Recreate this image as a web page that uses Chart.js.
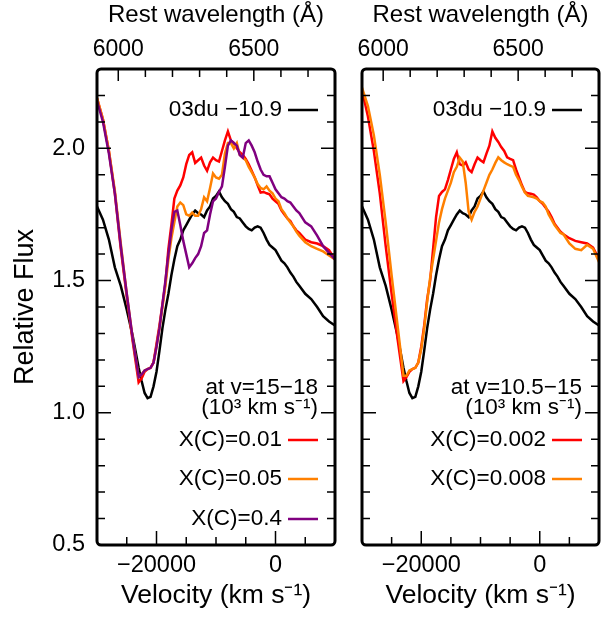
<!DOCTYPE html>
<html>
<head>
<meta charset="utf-8">
<script src="https://cdn.jsdelivr.net/npm/chart.js@4.4.1/dist/chart.umd.min.js"></script>
<style>
  body { margin: 0; background: #fff; }
  #wrap { position: relative; width: 605px; height: 621px; }
  #leftBox { position: absolute; left: 0; top: 0; }
  #rightBox { position: absolute; left: 345px; top: 0; }
</style>
</head>
<body>
<div id="wrap">
  <div id="leftBox"><canvas id="leftChart" width="345" height="621"></canvas></div>
  <div id="rightBox"><canvas id="rightChart" width="260" height="621"></canvas></div>
</div>
<script>
// velocity grid (km/s)
const velocity = [-30000, -29000, -28000, -27000, -26000, -25000, -24000, -23000, -22500, -22000,
  -21500, -21000, -20500, -20000, -19500, -19000, -18500, -18000, -17500, -17000,
  -16500, -16000, -15500, -15000, -14500, -14000, -13500, -13000, -12500, -12000,
  -11500, -11000, -10500, -10000, -9500, -9000, -8500, -8000, -7500, -7000,
  -6500, -6000, -5500, -5000, -4500, -4000, -3500, -3000, -2500, -2000,
  -1500, -1000, -500, 0, 500, 1000, 1500, 2000, 2500, 3000,
  3500, 4000, 5000, 6000, 7000, 8000, 9000, 10000];

// SN 2003du at -10.9 d (both panels)
const sn03du = [1.78, 1.73, 1.655, 1.55, 1.48, 1.39, 1.29, 1.17, 1.12, 1.075,
  1.055, 1.06, 1.10, 1.155, 1.235, 1.32, 1.39, 1.45, 1.52, 1.58,
  1.63, 1.655, 1.69, 1.71, 1.73, 1.75, 1.765, 1.755, 1.75, 1.74,
  1.765, 1.78, 1.81, 1.82, 1.837, 1.815, 1.80, 1.79, 1.77, 1.76,
  1.74, 1.735, 1.72, 1.705, 1.695, 1.69, 1.70, 1.705, 1.70, 1.68,
  1.655, 1.635, 1.625, 1.615, 1.595, 1.575, 1.565, 1.55, 1.53, 1.515,
  1.495, 1.48, 1.45, 1.43, 1.40, 1.365, 1.345, 1.33];

// left panel: carbon at v = 15-18 x10^3 km/s
const leftX001 = [2.19, 2.11, 1.99, 1.83, 1.62, 1.44, 1.27, 1.115, 1.13, 1.155,
  1.165, 1.17, 1.19, 1.26, 1.33, 1.41, 1.49, 1.62, 1.71, 1.81,
  1.84, 1.86, 1.89, 1.94, 1.975, 1.985, 1.945, 1.955, 1.965, 1.935,
  1.915, 1.947, 1.965, 1.955, 1.95, 1.99, 2.03, 2.064, 2.03, 2.02,
  2.00, 1.985, 1.975, 1.96, 1.94, 1.915, 1.89, 1.86, 1.833, 1.835,
  1.83, 1.826, 1.81, 1.80, 1.79, 1.765, 1.75, 1.735, 1.725, 1.705,
  1.69, 1.68, 1.655, 1.645, 1.64, 1.63, 1.615, 1.58];
const leftX005 = [2.19, 2.11, 1.99, 1.84, 1.64, 1.45, 1.28, 1.135, 1.145, 1.16,
  1.165, 1.17, 1.19, 1.25, 1.32, 1.40, 1.48, 1.58, 1.66, 1.72,
  1.78, 1.795, 1.785, 1.75, 1.745, 1.757, 1.745, 1.745, 1.77, 1.815,
  1.80, 1.85, 1.905, 1.89, 1.885, 1.90, 1.98, 2.02, 2.02, 2.00,
  2.02, 1.975, 1.965, 1.955, 1.93, 1.91, 1.89, 1.865, 1.85, 1.845,
  1.856, 1.84, 1.83, 1.81, 1.80, 1.77, 1.755, 1.735, 1.72, 1.705,
  1.685, 1.67, 1.645, 1.63, 1.62, 1.61, 1.595, 1.58];
const leftX04 = [2.18, 2.10, 1.98, 1.83, 1.63, 1.45, 1.28, 1.135, 1.145, 1.16,
  1.165, 1.17, 1.19, 1.25, 1.32, 1.41, 1.50, 1.60, 1.69, 1.76,
  1.765, 1.71, 1.65, 1.60, 1.55, 1.565, 1.585, 1.60, 1.63, 1.68,
  1.69, 1.75, 1.80, 1.81, 1.835, 1.856, 1.93, 2.01, 2.03, 2.02,
  2.01, 1.975, 1.965, 2.02, 2.03, 2.01, 1.985, 1.95, 1.92, 1.90,
  1.894, 1.894, 1.87, 1.845, 1.83, 1.815, 1.81, 1.80, 1.795, 1.78,
  1.765, 1.755, 1.72, 1.705, 1.67, 1.63, 1.605, 1.58];

// right panel: carbon at v = 10.5-15 x10^3 km/s
const rightX0002 = [2.22, 2.12, 1.99, 1.83, 1.63, 1.45, 1.28, 1.12, 1.135, 1.155,
  1.165, 1.17, 1.19, 1.25, 1.33, 1.43, 1.50, 1.62, 1.74, 1.82,
  1.835, 1.845, 1.88, 1.92, 1.96, 1.985, 1.94, 1.935, 1.947, 1.92,
  1.91, 1.94, 1.965, 1.955, 1.947, 1.98, 2.01, 2.064, 2.04, 2.024,
  2.005, 1.99, 1.966, 1.96, 1.955, 1.92, 1.89, 1.86, 1.835, 1.83,
  1.828, 1.825, 1.815, 1.80, 1.79, 1.775, 1.76, 1.74, 1.715, 1.70,
  1.685, 1.675, 1.66, 1.65, 1.645, 1.64, 1.625, 1.58];
const rightX0008 = [2.23, 2.16, 2.05, 1.90, 1.72, 1.52, 1.33, 1.14, 1.14, 1.16,
  1.165, 1.17, 1.19, 1.24, 1.32, 1.42, 1.51, 1.58, 1.65, 1.72,
  1.77, 1.81, 1.84, 1.87, 1.91, 1.93, 1.965, 1.95, 1.87, 1.76,
  1.73, 1.76, 1.78, 1.81, 1.84, 1.87, 1.90, 1.92, 1.945, 1.966,
  1.955, 1.947, 1.94, 1.935, 1.93, 1.90, 1.88, 1.855, 1.833, 1.82,
  1.818, 1.815, 1.81, 1.80, 1.795, 1.78, 1.75, 1.73, 1.71, 1.695,
  1.68, 1.675, 1.64, 1.62, 1.615, 1.635, 1.62, 1.57];

// tick labels
const fluxTicks = [0.5, 1.0, 1.5, 2.0];
const velTicks = [-20000, 0];
const waveTicks = [6000, 6500];

// top axis: rest wavelength of C II 6580 at each velocity
const C_KMS = 299792.458;
const LAMBDA0 = 6580;
const V_MIN = -30000, V_MAX = 10000;
const waveMin = LAMBDA0 * (1 + V_MIN / C_KMS);
const waveMax = LAMBDA0 * (1 + V_MAX / C_KMS);

const FONT = '"Liberation Sans", Arial, Helvetica, sans-serif';

const toPoints = arr => velocity.map((v, i) => ({ x: v, y: arr[i] }));
const fmtMinus = v => (v < 0 ? '\u2212' + Math.abs(v) : String(v));
const fixedTicks = list => (s => { s.ticks = list.map(v => ({ value: v })); });

// inward ticks + rounded frame
const frameTicks = {
  id: 'frameTicks',
  afterDatasetsDraw(chart) {
    const { ctx, chartArea: a, scales } = chart;
    ctx.save();
    ctx.strokeStyle = '#000';
    ctx.lineWidth = 1.5;
    ctx.beginPath();
    for (let i = 6; i <= 22; i++) {
      const py = scales.y.getPixelForValue(i / 10);
      const len = i % 5 === 0 ? 14 : 8;
      ctx.moveTo(a.left, py); ctx.lineTo(a.left + len, py);
      ctx.moveTo(a.right, py); ctx.lineTo(a.right - len, py);
    }
    for (let v = -25000; v <= 5000; v += 5000) {
      const px = scales.x.getPixelForValue(v);
      const len = velTicks.includes(v) ? 14 : 8;
      ctx.moveTo(px, a.bottom); ctx.lineTo(px, a.bottom - len);
    }
    for (let w = 6000; w <= 6700; w += 100) {
      const px = scales.x2.getPixelForValue(w);
      const len = waveTicks.includes(w) ? 12 : 8;
      ctx.moveTo(px, a.top); ctx.lineTo(px, a.top + len);
    }
    ctx.stroke();
    ctx.lineWidth = 3;
    ctx.lineJoin = 'round';
    ctx.beginPath();
    ctx.roundRect(a.left, a.top, a.right - a.left, a.bottom - a.top, 4);
    ctx.stroke();
    ctx.restore();
  }
};

// gnuplot-like key inside the panel
const keyNotes = {
  id: 'keyNotes',
  afterDatasetsDraw(chart, args, opts) {
    const { ctx, chartArea: a } = chart;
    ctx.save();
    ctx.font = '22.5px ' + FONT;
    ctx.textAlign = 'right';
    ctx.textBaseline = 'middle';
    ctx.fillStyle = '#000';
    (opts.rows || []).forEach(row => {
      const y = a.top + row.dy;
      if (row.ds !== undefined) {
        const ds = chart.data.datasets[row.ds];
        ctx.fillText(ds.label, a.right - 53, y);
        ctx.strokeStyle = ds.borderColor;
        ctx.lineWidth = 2.5;
        ctx.beginPath();
        ctx.moveTo(a.right - 47, y);
        ctx.lineTo(a.right - 17, y);
        ctx.stroke();
      } else {
        ctx.fillText(row.text, a.right - 17, y);
      }
    });
    ctx.restore();
  }
};

function lineSet(label, arr, color, order) {
  return {
    label: label,
    data: toPoints(arr),
    borderColor: color,
    borderWidth: 2.5,
    pointRadius: 0,
    tension: 0,
    fill: false,
    order: order
  };
}

function makeScales(showY) {
  return {
    x: {
      type: 'linear', position: 'bottom', min: V_MIN, max: V_MAX,
      grid: { display: false, drawTicks: false }, border: { display: false },
      afterBuildTicks: fixedTicks(velTicks),
      ticks: {
        autoSkip: false, maxRotation: 0, padding: 6,
        color: '#000', font: { family: FONT, size: 23.5 },
        callback: v => fmtMinus(v)
      },
      title: {
        display: true, text: 'Velocity (km s\u207B\u00B9)', color: '#000',
        font: { family: FONT, size: 26.5 }, padding: { top: 0, bottom: 9 }
      },
      afterFit: s => { s.height = 76; }
    },
    x2: {
      type: 'linear', position: 'top', min: waveMin, max: waveMax,
      grid: { display: false, drawTicks: false }, border: { display: false },
      afterBuildTicks: fixedTicks(waveTicks),
      ticks: {
        autoSkip: false, maxRotation: 0, padding: 6,
        color: '#000', font: { family: FONT, size: 23 },
        callback: v => String(v)
      },
      title: {
        display: true, text: 'Rest wavelength (\u00C5)', color: '#000',
        font: { family: FONT, size: 24 }, padding: { top: 1, bottom: 0 }
      },
      afterFit: s => { s.height = 69; }
    },
    y: {
      type: 'linear', position: 'left', min: 0.5, max: 2.3,
      grid: { display: false, drawTicks: false }, border: { display: false },
      afterBuildTicks: fixedTicks(fluxTicks),
      ticks: {
        display: showY, padding: 12,
        color: '#000', font: { family: FONT, size: 23.5 },
        callback: v => v.toFixed(1)
      },
      title: {
        display: showY, text: 'Relative Flux', color: '#000',
        font: { family: FONT, size: 27 }, padding: { top: 9, bottom: 0 }
      },
      afterFit: s => { s.width = showY ? 97 : 17; }
    }
  };
}

function makeChart(canvasId, datasets, rows, showY, padRight) {
  return new Chart(document.getElementById(canvasId), {
    type: 'line',
    data: { datasets: datasets },
    options: {
      responsive: false,
      animation: false,
      layout: { padding: { left: 0, right: padRight, top: 0, bottom: 0 } },
      scales: makeScales(showY),
      plugins: {
        legend: { display: false },
        tooltip: { enabled: false },
        keyNotes: { rows: rows }
      }
    },
    plugins: [frameTicks, keyNotes]
  });
}

makeChart('leftChart', [
  lineSet('03du \u221210.9', sn03du, '#000000', 4),
  lineSet('X(C)=0.01', leftX001, '#ff0000', 3),
  lineSet('X(C)=0.05', leftX005, '#ff8000', 2),
  lineSet('X(C)=0.4', leftX04, '#800080', 1)
], [
  { ds: 0, dy: 41 },
  { text: 'at v=15\u221218', dy: 319 },
  { text: '(10\u00B3 km s\u207B\u00B9)', dy: 339 },
  { ds: 1, dy: 371 },
  { ds: 2, dy: 410 },
  { ds: 3, dy: 450 }
], true, 10);

makeChart('rightChart', [
  lineSet('03du \u221210.9', sn03du, '#000000', 3),
  lineSet('X(C)=0.002', rightX0002, '#ff0000', 2),
  lineSet('X(C)=0.008', rightX0008, '#ff8000', 1)
], [
  { ds: 0, dy: 41 },
  { text: 'at v=10.5\u221215', dy: 319 },
  { text: '(10\u00B3 km s\u207B\u00B9)', dy: 339 },
  { ds: 1, dy: 371 },
  { ds: 2, dy: 410 }
], false, 6);
</script>
</body>
</html>
